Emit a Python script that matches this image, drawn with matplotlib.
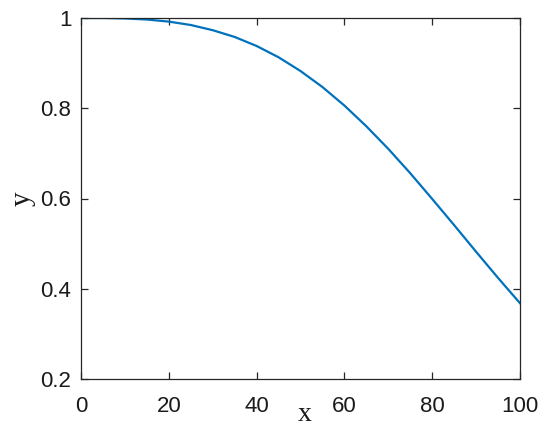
import matplotlib
matplotlib.use('agg')
from matplotlib import pyplot as plt

# values
x = [1, 5, 10, 15, 20, 25, 30, 35, 40, 45, 50,
     55, 60, 65, 70, 75, 80, 85, 90, 95, 100]
y = [1.000, 1.000, 0.999, 0.9966, 0.992, 0.9845, 0.973, 0.958, 0.938,
     0.913, 0.8825, 0.847, 0.806, 0.760, 0.710, 0.656, 0.599, 0.541,
     0.482, 0.424, 0.368]
xticks = [0, 20, 40, 60, 80, 100]
yticks = [0.2, 0.4, 0.6, 0.8, 1.0]
yticklabels = ['0.2', '0.4', '0.6', '0.8', '1']

axcolor = '#262626'
fig = plt.figure(figsize=(5.5, 4.3), dpi=100)
ax = fig.add_axes([81 / 550, 1 - 379 / 430, 439 / 550, 361 / 430])
ax.plot(x, y, color=(0, 0.447, 0.741), lw=1.6)
ax.set_xlim(0, 100)
ax.set_ylim(0.2, 1)
ax.set_xticks(xticks)
ax.set_yticks(yticks)
ax.set_yticklabels(yticklabels)
ax.tick_params(direction='in', length=5, width=0.9, top=True, right=True,
               colors=axcolor, labelsize=16)
ax.tick_params(axis='x', pad=12)
ax.tick_params(axis='y', pad=7)
for lab in ax.get_xticklabels() + ax.get_yticklabels():
    lab.set_family('Liberation Sans')
    lab.set_color('#1a1a1a')
for sp in ax.spines.values():
    sp.set_color(axcolor)
    sp.set_linewidth(0.9)

ax.set_xlabel('x', family='Liberation Serif', fontsize=20, color='#1a1a1a',
              va='baseline')
ax.set_ylabel('y', family='Liberation Serif', fontsize=21, color='#1a1a1a')
ax.xaxis.set_label_coords(0.51, -0.117)
ax.yaxis.set_label_coords(-0.104, 0.5)

fig.savefig('out.png', dpi=100)
